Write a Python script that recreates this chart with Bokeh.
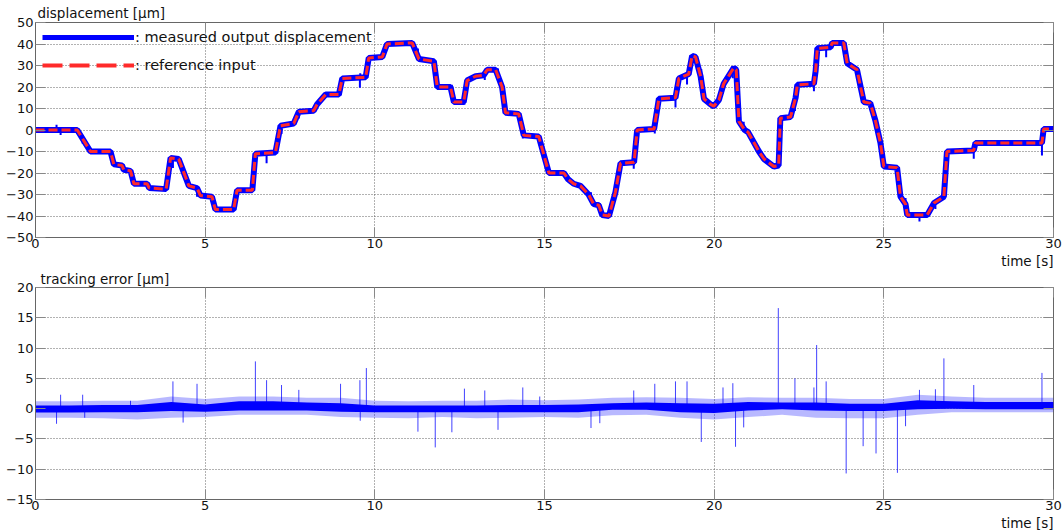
import numpy as np
from bokeh.plotting import figure
from bokeh.layouts import column
from bokeh.models import LinearAxis, Legend, LegendItem, FixedTicker, Range1d, Title
from bokeh.embed import file_html
from bokeh.resources import INLINE

# ---------------- data ----------------
ref_t = [0, 1.23, 1.62, 2.21, 2.31, 2.55, 2.6, 2.8, 2.9, 3.29, 3.35, 3.85, 3.98, 4.22, 4.4, 4.52,
         4.76, 4.86, 5.2, 5.3, 5.84, 5.94, 6.39, 6.48, 7.07, 7.22, 7.61, 7.76, 8.2, 8.3, 8.55,
         8.94, 9.04, 9.73, 9.82, 10.22, 10.36, 11.1, 11.3, 11.74, 11.84, 12.23, 12.33, 12.62,
         12.72, 12.97, 13.21, 13.31, 13.56, 13.75, 13.85, 14.24, 14.39, 14.83, 15.13, 15.57,
         15.7, 15.86, 16.06, 16.3, 16.45, 16.6, 16.7, 16.9, 17.09, 17.24, 17.64, 17.73, 18.23,
         18.37, 18.86, 18.96, 19.25, 19.35, 19.45, 19.6, 19.7, 19.89, 19.99, 20.14, 20.28,
         20.48, 20.58, 20.65, 20.73, 20.9, 21.0, 21.32, 21.47, 21.76, 21.9, 21.95, 22.25, 22.4,
         22.45, 22.94, 22.99, 23.04, 23.43, 23.48, 23.82, 23.92, 24.21, 24.41, 24.6, 24.75,
         24.9, 25.0, 25.39, 25.49, 25.64, 25.69, 26.28, 26.48, 26.77, 26.86, 27.65, 27.7,
         29.66, 29.71, 30]
ref_v = [0, 0, -10, -10, -16, -16.5, -18.5, -19, -25, -25, -27, -27.5, -13, -13.5, -21, -26,
         -27, -30.5, -31, -37, -37, -28, -28, -11, -10.5, 2, 3, 8.5, 9, 12, 16.5,
         16.5, 24, 24.5, 33.5, 34, 40, 40.5, 33, 32, 20, 20, 13, 13,
         23, 25, 25.5, 28, 28, 20, 8, 7.5, -2.5, -3, -20, -20,
         -23, -25, -26, -30, -34.5, -35, -39.5, -40, -29, -15.5, -15, 0, 0.5,
         14.5, 15, 24, 26, 34.5, 34, 25, 14.5, 12, 11, 14, 21.5,
         26.5, 29, 28, 4, 0, -1, -10, -13.5, -17, -16.5, 5.5, 6, 15,
         21, 21.5, 27.5, 38, 38.5, 40.5, 40.5, 31, 28, 13, 12.5, 4.5,
         -6, -17, -17.5, -31, -34.5, -39.5, -39.5, -34, -31, -10, -9.5, -6,
         -6, 0.5, 0.5]

spike_t = [0.62, 0.74, 1.39, 1.45, 2.8, 4.05, 4.35, 4.76, 6.48, 6.81, 7.25, 7.76, 8.99, 9.56,
           9.57, 9.75, 11.27, 11.78, 12.27, 12.64, 13.24, 13.63, 14.36, 14.86, 16.37, 16.63,
           17.63, 18.25, 18.86, 19.2, 19.62, 20.26, 20.55, 20.63, 20.87, 21.89, 22.38, 22.94,
           23.02, 23.3, 23.89, 24.39, 24.77, 25.4, 25.64, 26.05, 26.52, 26.77, 27.65, 29.66]
spike_v = [-2.5, 2.3, 2.3, -1.5, 1.3, 4.5, -2.3, 4.1, 7.8, 4.7, 3.9, 3.1, 4.1, 4.7,
           -2.0, 6.7, -3.8, -6.4, -3.9, 3.3, 3.0, -3.5, 3.5, 2.0, -3.2, -2.4,
           3.0, 4.1, 4.5, 4.5, -5.5, 3.5, 4.2, -6.3, -3.1, 16.6, 5.0, 3.5,
           10.5, 4.5, -10.7, -6.2, -7.4, -10.6, -2.9, 3.1, 3.2, 8.3, 3.9, 5.9]

band_t = list(range(0, 31))
core_lo = [-0.65, -0.65, -0.6, -0.6, -0.4, -0.5, -0.3, -0.3, -0.3, -0.5, -0.6, -0.6, -0.6, -0.6,
           -0.6, -0.6, -0.6, -0.2, -0.2, -0.6, -0.7, -0.3, -0.1, -0.3, -0.4, -0.4, -0.1, 0.0,
           -0.1, -0.1, -0.1]
core_hi = [0.5, 0.5, 0.6, 0.6, 1.1, 0.7, 1.2, 1.2, 1.0, 0.9, 0.5, 0.5, 0.5, 0.5, 0.6, 0.6, 0.7,
           0.9, 1.0, 0.9, 0.8, 1.1, 1.0, 1.0, 0.8, 0.8, 1.4, 1.2, 1.1, 1.1, 1.1]
fuzz_lo = [-1.5, -1.5, -1.6, -1.8, -1.5, -1.4, -1.0, -1.0, -1.0, -1.4, -1.5, -1.6, -1.4, -1.6,
           -1.5, -1.4, -1.5, -1.1, -1.0, -1.5, -1.8, -1.4, -1.0, -1.5, -1.6, -1.6, -1.0, -0.6,
           -0.6, -0.6, -0.6]
fuzz_hi = [1.2, 1.2, 1.3, 1.3, 2.0, 1.6, 2.0, 2.0, 1.8, 1.8, 1.3, 1.2, 1.3, 1.3, 1.5, 1.4, 1.5,
           1.8, 1.9, 1.8, 1.6, 1.9, 1.8, 1.8, 1.6, 1.6, 2.3, 2.0, 1.8, 1.8, 1.8]

x_ticks = [0, 5, 10, 15, 20, 25, 30]
y1_ticks = [-50, -40, -30, -20, -10, 0, 10, 20, 30, 40, 50]
y2_ticks = [-15, -10, -5, 0, 5, 10, 15, 20]

FONT = "DejaVu Sans"
BLUE = "#0000ff"
RED = "#ff2a2a"
GRAY = "#666666"
TXT = "#111111"


def make_fig(title, yr, yticks, height, top, bottom, title_off, title_standoff):
    p = figure(width=1062, height=height, output_backend="svg", toolbar_location=None,
               title_location=None, x_range=Range1d(0, 30), y_range=Range1d(*yr),
               min_border_left=35, min_border_right=9, min_border_top=top,
               min_border_bottom=bottom)
    p.outline_line_color = GRAY
    for ax, tk in ((p.xaxis[0], x_ticks), (p.yaxis[0], yticks)):
        ax.ticker = FixedTicker(ticks=tk)
        ax.major_label_text_font = FONT
        ax.major_label_text_font_size = "13px"
        ax.major_label_text_color = TXT
        ax.major_tick_in = 10
        ax.major_tick_out = 0
        ax.major_tick_line_color = "#888888"
        ax.minor_tick_line_color = None
        ax.axis_line_color = GRAY
    p.xaxis[0].major_label_standoff = 1
    p.yaxis[0].major_label_standoff = 2
    # mirrored ticks on top / right (no labels)
    for side, tk in (("above", x_ticks), ("right", yticks)):
        a = LinearAxis(ticker=FixedTicker(ticks=tk),
                       major_label_overrides={t: "" for t in tk},
                       major_tick_in=10, major_tick_out=0, major_tick_line_color="#888888",
                       minor_tick_line_color=None, axis_line_color=None,
                       major_label_standoff=0)
        p.add_layout(a, side)
    p.xgrid.ticker = FixedTicker(ticks=x_ticks)
    p.ygrid.ticker = FixedTicker(ticks=yticks)
    for g in (p.xgrid[0], p.ygrid[0]):
        g.grid_line_color = "#555555"
        g.grid_line_dash = "1 2"
        g.grid_line_alpha = 0.9
    p.add_layout(Title(text=title, align="left", offset=title_off, standoff=title_standoff,
                       text_font=FONT, text_font_size="13.5px", text_font_style="normal",
                       text_color=TXT), "above")
    p.add_layout(Title(text="time [s]", align="right", offset=0, standoff=0,
                       text_font=FONT, text_font_size="13.5px", text_font_style="normal",
                       text_color=TXT), "below")
    return p


# ---------------- top: displacement ----------------
p1 = make_fig("displacement [\u00b5m]", (-50, 50), y1_ticks, 268, 22, 30, 2, 3)
p1.line(ref_t, ref_v, line_color=BLUE, line_width=6)
sv = np.array(spike_v)
st = np.array(spike_t)
small = np.abs(sv) < 6
ref_at_spike = np.interp(st[small], ref_t, ref_v)
p1.segment(x0=st[small], y0=ref_at_spike, x1=st[small], y1=ref_at_spike - sv[small],
           line_color=BLUE, line_width=2)
p1.line(ref_t, ref_v, line_color=RED, line_width=3, line_dash="9 4")

# legend-only renderers (placed outside the visible x range)
leg_meas = p1.line([-10, -9], [0, 0], line_color=BLUE, line_width=5)
leg_ref = p1.line([-10, -9], [0, 0], line_color=RED, line_width=4, line_dash="20 7")
legend = Legend(items=[LegendItem(label=": measured output displacement", renderers=[leg_meas]),
                       LegendItem(label=": reference input", renderers=[leg_ref])],
                location=(7, 162), glyph_width=92, glyph_height=20, label_height=20,
                spacing=8, padding=3, margin=0, label_standoff=1,
                label_text_font=FONT, label_text_font_size="14.5px", label_text_color=TXT,
                border_line_color=None, background_fill_alpha=0)
p1.add_layout(legend, "center")

# ---------------- bottom: tracking error ----------------
p2 = make_fig("tracking error [\u00b5m]", (-15, 20), y2_ticks, 262, 16, 29, 5, 1)
p2.varea(x=band_t, y1=fuzz_lo, y2=fuzz_hi, fill_color=BLUE, fill_alpha=0.28)
p2.varea(x=band_t, y1=core_lo, y2=core_hi, fill_color=BLUE, fill_alpha=1.0)
p2.segment(x0=spike_t, y0=[0] * len(spike_t), x1=spike_t, y1=spike_v,
           line_color=BLUE, line_width=1, line_alpha=0.75)

layout = column(p1, p2, spacing=0)
open("out.html", "w").write(file_html(layout, INLINE))
